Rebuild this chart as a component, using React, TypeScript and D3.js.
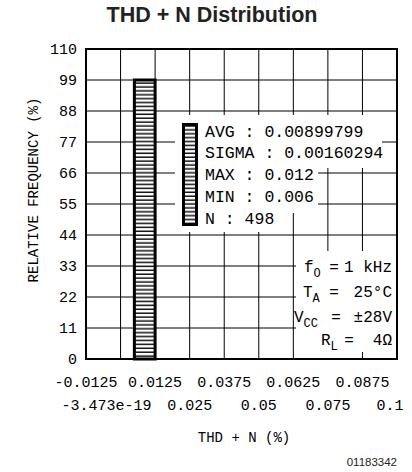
import React from "react";
import * as d3 from "d3";

// ---- data ----
const binLo = [0.005];
const binHi = [0.0125];
const binFreq = [99];

const xTopTicks = [-0.0125, 0.0125, 0.0375, 0.0625, 0.0875];
const xTopLabels = ["-0.0125", "0.0125", "0.0375", "0.0625", "0.0875"];
const xBottomTicks = [0, 0.025, 0.05, 0.075, 0.1];
const xBottomLabels = ["-3.473e-19", "0.025", "0.05", "0.075", "0.1"];
const yTicks = [0, 11, 22, 33, 44, 55, 66, 77, 88, 99, 110];

const statNames = ["AVG", "SIGMA", "MAX", "MIN", "N"];
const statValues = ["0.00899799", "0.00160294", "0.012", "0.006", "498"];

const condMain = ["f", "T", "V", "R"];
const condSub = ["O", "A", "CC", "L"];
const condValues = ["1 kHz", "25°C", "±28V", "4Ω"];

const W = 412;
const H = 472;
const L = 86, R = 397, T = 49, B = 359;
const MONO = "'Liberation Mono', 'DejaVu Sans Mono', monospace";
const SANS = "'Liberation Sans', Arial, sans-serif";

export default function App() {
  const x = d3.scaleLinear().domain([-0.0125, 0.1]).range([L, R]);
  const y = d3.scaleLinear().domain([0, 110]).range([B, T]);
  const gridX = [...xTopTicks, ...xBottomTicks].sort((a, b) => a - b);

  const bottomDx = [-14, 0, 0, 0, -7];
  const condLabelX = [304, 303, 294, 321];
  const condEqX = [334, 334, 336, 349];
  const condBase = [272, 297, 322, 345];
  const statBase = [136.5, 158, 180, 201.5, 223.5];

  return (
    <svg width={W} height={H} style={{ position: "absolute", left: 0, top: 0, background: "#fff" }}>
      <defs>
        <pattern id="hatch" patternUnits="userSpaceOnUse" width="8" height="3.9">
          <rect width="8" height="3.9" fill="#fff" />
          <line x1="0" x2="8" y1="1.2" y2="1.2" stroke="#111" strokeWidth="1.5" />
        </pattern>
      </defs>
      <rect width={W} height={H} fill="#fff" />
      <text x={212} y={22} textAnchor="middle" fontFamily={SANS} fontWeight="bold" fontSize={21.5} fill="#222">
        THD + N Distribution
      </text>

      {/* grid */}
      {gridX.map((v, i) => (
        <line key={"gx" + i} x1={x(v)} x2={x(v)} y1={T} y2={B} stroke="#000" strokeWidth={1} />
      ))}
      {yTicks.map((v, i) => (
        <line key={"gy" + i} x1={L} x2={R} y1={y(v)} y2={y(v)} stroke="#000" strokeWidth={1} />
      ))}

      {/* histogram bars */}
      {binLo.map((lo, i) => (
        <rect
          key={"bar" + i}
          x={x(lo)}
          y={y(binFreq[i])}
          width={x(binHi[i]) - x(lo)}
          height={y(0) - y(binFreq[i])}
          fill="url(#hatch)"
          stroke="#000"
          strokeWidth={3}
        />
      ))}

      {/* legend knockouts */}
      <rect x={175} y={115} width={207} height={53} fill="#fff" />
      <rect x={175} y={168} width={143} height={45} fill="#fff" />
      <rect x={175} y={213} width={110} height={19} fill="#fff" />
      <rect x={183.5} y={124.5} width={13} height={100} fill="url(#hatch)" stroke="#000" strokeWidth={3} />
      {statNames.map((n, i) => (
        <text key={"st" + i} x={205} y={statBase[i]} fontFamily={MONO} fontSize={16.5} fill="#000">
          {n + " : " + statValues[i]}
        </text>
      ))}

      {/* conditions box */}
      <rect x={296} y={251} width={100} height={101} fill="#fff" />
      <rect x={316} y={340} width={34} height={18} fill="#fff" />
      {condMain.map((m, i) => (
        <g key={"cd" + i} fontFamily={MONO} fontSize={16} fill="#000">
          <text x={condLabelX[i]} y={condBase[i]}>
            {m}
            <tspan dy={5} fontSize={12}>{condSub[i]}</tspan>
          </text>
          <text x={condEqX[i]} y={condBase[i]} textAnchor="middle">=</text>
          <text x={392} y={condBase[i]} textAnchor="end">{condValues[i]}</text>
        </g>
      ))}

      {/* frame */}
      <rect x={L} y={T} width={R - L} height={B - T} fill="none" stroke="#000" strokeWidth={2} />

      {/* y axis labels */}
      {yTicks.map((v, i) => (
        <text key={"yl" + i} x={77} y={y(v)} dy="0.35em" textAnchor="end" fontFamily={MONO} fontSize={15} fill="#000">
          {String(v)}
        </text>
      ))}
      <text
        transform={`translate(38,190) rotate(-90)`}
        textAnchor="middle"
        fontFamily={MONO}
        fontSize={14}
        fill="#000"
      >
        RELATIVE FREQUENCY (%)
      </text>

      {/* x axis labels */}
      {xTopTicks.map((v, i) => (
        <text key={"xt" + i} x={x(v)} y={387} textAnchor="middle" fontFamily={MONO} fontSize={15} fill="#000">
          {xTopLabels[i]}
        </text>
      ))}
      {xBottomTicks.map((v, i) => (
        <text key={"xb" + i} x={x(v) + bottomDx[i]} y={410} textAnchor="middle" fontFamily={MONO} fontSize={15} fill="#000">
          {xBottomLabels[i]}
        </text>
      ))}
      <text x={244} y={442} textAnchor="middle" fontFamily={MONO} fontSize={14} fill="#000">
        THD + N (%)
      </text>

      <text x={397} y={466} textAnchor="end" fontFamily={SANS} fontSize={11.5} fill="#222">
        01183342
      </text>
    </svg>
  );
}
